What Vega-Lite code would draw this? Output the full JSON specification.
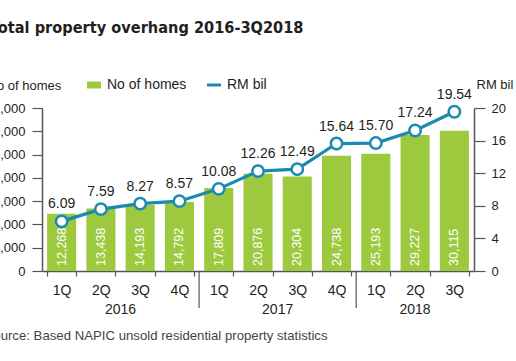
{
  "$schema": "https://vega.github.io/schema/vega-lite/v6.json",
  "width": 432,
  "height": 163,
  "autosize": {"type": "none"},
  "padding": {"left": 42, "right": 42, "top": 108, "bottom": 90},
  "background": "white",
  "title": {
    "text": "Total property overhang 2016-3Q2018",
    "anchor": "start",
    "frame": "group",
    "dx": -52,
    "dy": -2,
    "font": "DejaVu Sans Condensed",
    "fontSize": 16.2,
    "fontWeight": "bold",
    "color": "#231f20",
    "offset": 40
  },
  "config": {
    "view": {"stroke": null},
    "font": "Liberation Sans",
    "axis": {
      "domainColor": "#555",
      "tickColor": "#555",
      "labelColor": "#231f20",
      "labelFont": "Liberation Sans",
      "labelFontSize": 13,
      "grid": false,
      "domainWidth": 1.5,
      "tickWidth": 1.2,
      "titleFont": "Liberation Sans",
      "titleFontWeight": "normal",
      "titleFontSize": 13,
      "titleColor": "#231f20"
    }
  },
  "data": {
    "values": [
      {"period": "2016 1Q", "homes": 12268, "rm": 6.09},
      {"period": "2016 2Q", "homes": 13438, "rm": 7.59},
      {"period": "2016 3Q", "homes": 14193, "rm": 8.27},
      {"period": "2016 4Q", "homes": 14792, "rm": 8.57},
      {"period": "2017 1Q", "homes": 17809, "rm": 10.08},
      {"period": "2017 2Q", "homes": 20876, "rm": 12.26},
      {"period": "2017 3Q", "homes": 20304, "rm": 12.49},
      {"period": "2017 4Q", "homes": 24738, "rm": 15.64},
      {"period": "2018 1Q", "homes": 25193, "rm": 15.70},
      {"period": "2018 2Q", "homes": 29227, "rm": 17.24},
      {"period": "2018 3Q", "homes": 30115, "rm": 19.54}
    ]
  },
  "layer": [
    {
      "layer": [
        {
          "mark": {"type": "bar"},
          "encoding": {
            "x": {
              "field": "period",
              "type": "ordinal",
              "sort": null,
              "scale": {"paddingInner": 0.26, "paddingOuter": 0.13},
              "axis": {
                "labelExpr": "split(datum.value, ' ')[1]",
                "labelAngle": 0,
                "labelFontSize": 14,
                "tickBand": "extent",
                "tickSize": 5,
                "labelPadding": 7,
                "title": "Source: Based NAPIC unsold residential property statistics",
                "titleX": -58,
                "titleY": 64,
                "titleAlign": "left",
                "titleAnchor": "start",
                "titleBaseline": "middle",
                "titleFontSize": 13.2,
                "titleColor": "#444"
              }
            },
            "y": {
              "field": "homes",
              "type": "quantitative",
              "scale": {"domain": [0, 35000], "nice": false},
              "axis": {
                "orient": "left",
                "values": [0, 5000, 10000, 15000, 20000, 25000, 30000, 35000],
                "labelExpr": "format(datum.value, ',')",
                "tickSize": 10,
                "labelPadding": 7,
                "title": "No of homes",
                "titleAngle": 0,
                "titleX": -55,
                "titleY": -23,
                "titleAlign": "left",
                "titleBaseline": "middle"
              }
            },
            "color": {
              "datum": "No of homes",
              "type": "nominal",
              "scale": {"domain": ["No of homes", "RM bil"], "range": ["#9dc93e", "#1b8ab1"]},
              "legend": {
                "orient": "none",
                "legendX": 45,
                "legendY": -30,
                "direction": "horizontal",
                "title": null,
                "symbolSize": 196,
                "labelFontSize": 14,
                "labelFont": "Liberation Sans",
                "labelColor": "#231f20",
                "labelOffset": 6,
                "columnPadding": 14,
                "encode": {
                  "symbols": {
                    "update": {
                      "shape": {"signal": "datum.value === 'RM bil' ? 'stroke' : 'M-1,-0.5H1V0.5H-1Z'"},
                      "fill": {"signal": "datum.value === 'RM bil' ? 'transparent' : '#9dc93e'"},
                      "stroke": {"signal": "datum.value === 'RM bil' ? '#1b8ab1' : 'transparent'"},
                      "strokeWidth": {"signal": "datum.value === 'RM bil' ? 3 : 0"},
                      "opacity": {"value": 1}
                    }
                  }
                }
              }
            }
          }
        },
        {
          "mark": {"type": "text", "angle": 270, "align": "left", "baseline": "middle", "dx": 5, "color": "white", "fontSize": 12.5},
          "encoding": {
            "x": {"field": "period", "type": "ordinal", "sort": null},
            "y": {
              "datum": 0,
              "type": "quantitative",
              "axis": {
                "orient": "left",
                "values": [0, 5000, 10000, 15000, 20000, 25000, 30000, 35000],
                "labelExpr": "format(datum.value, ',')",
                "tickSize": 10,
                "labelPadding": 7,
                "title": "No of homes",
                "titleAngle": 0,
                "titleX": -55,
                "titleY": -23,
                "titleAlign": "left",
                "titleBaseline": "middle"
              }
            },
            "text": {"field": "homes", "type": "quantitative", "format": ","}
          }
        },
        {
          "mark": {"type": "rule", "color": "#555", "strokeWidth": 1.2, "xOffset": -19.64, "y2Offset": 37},
          "transform": [{"filter": "datum.period === '2017 1Q' || datum.period === '2018 1Q'"}],
          "encoding": {
            "x": {"field": "period", "type": "ordinal", "sort": null},
            "y": {
              "datum": 0,
              "type": "quantitative",
              "axis": {
                "orient": "left",
                "values": [0, 5000, 10000, 15000, 20000, 25000, 30000, 35000],
                "labelExpr": "format(datum.value, ',')",
                "tickSize": 10,
                "labelPadding": 7,
                "title": "No of homes",
                "titleAngle": 0,
                "titleX": -55,
                "titleY": -23,
                "titleAlign": "left",
                "titleBaseline": "middle"
              }
            },
            "y2": {"datum": 0}
          }
        },
        {
          "data": {"values": [{"period": "2016 3Q", "year": "2016"}, {"period": "2017 3Q", "year": "2017"}]},
          "mark": {"type": "text", "xOffset": -19.64, "dy": 39, "baseline": "middle", "fontSize": 14, "color": "#231f20"},
          "encoding": {
            "x": {"field": "period", "type": "ordinal", "sort": null},
            "y": {
              "datum": 0,
              "type": "quantitative",
              "axis": {
                "orient": "left",
                "values": [0, 5000, 10000, 15000, 20000, 25000, 30000, 35000],
                "labelExpr": "format(datum.value, ',')",
                "tickSize": 10,
                "labelPadding": 7,
                "title": "No of homes",
                "titleAngle": 0,
                "titleX": -55,
                "titleY": -23,
                "titleAlign": "left",
                "titleBaseline": "middle"
              }
            },
            "text": {"field": "year"}
          }
        },
        {
          "data": {"values": [{"period": "2018 2Q", "year": "2018"}]},
          "mark": {"type": "text", "dy": 39, "baseline": "middle", "fontSize": 14, "color": "#231f20"},
          "encoding": {
            "x": {"field": "period", "type": "ordinal", "sort": null},
            "y": {
              "datum": 0,
              "type": "quantitative",
              "axis": {
                "orient": "left",
                "values": [0, 5000, 10000, 15000, 20000, 25000, 30000, 35000],
                "labelExpr": "format(datum.value, ',')",
                "tickSize": 10,
                "labelPadding": 7,
                "title": "No of homes",
                "titleAngle": 0,
                "titleX": -55,
                "titleY": -23,
                "titleAlign": "left",
                "titleBaseline": "middle"
              }
            },
            "text": {"field": "year"}
          }
        }
      ]
    },
    {
      "layer": [
        {
          "mark": {"type": "line", "strokeWidth": 3.2},
          "encoding": {
            "x": {"field": "period", "type": "ordinal", "sort": null},
            "y": {
              "field": "rm",
              "type": "quantitative",
              "scale": {"domain": [0, 20], "nice": false},
              "axis": {
                "orient": "right",
                "values": [0, 4, 8, 12, 16, 20],
                "tickSize": 11,
                "labelPadding": 6,
                "title": "RM bil",
                "titleAngle": 0,
                "titleX": 2,
                "titleY": -24,
                "titleAlign": "left",
                "titleBaseline": "middle"
              }
            },
            "color": {"datum": "RM bil", "type": "nominal"}
          }
        },
        {
          "mark": {"type": "point", "filled": true, "fill": "white", "stroke": "#1b8ab1", "strokeWidth": 2.5, "size": 130, "opacity": 1},
          "encoding": {
            "x": {"field": "period", "type": "ordinal", "sort": null},
            "y": {
              "field": "rm",
              "type": "quantitative",
              "axis": {
                "orient": "right",
                "values": [0, 4, 8, 12, 16, 20],
                "tickSize": 11,
                "labelPadding": 6,
                "title": "RM bil",
                "titleAngle": 0,
                "titleX": 2,
                "titleY": -24,
                "titleAlign": "left",
                "titleBaseline": "middle"
              }
            }
          }
        },
        {
          "mark": {"type": "text", "baseline": "bottom", "dy": -10, "fontSize": 14, "color": "#231f20"},
          "encoding": {
            "x": {"field": "period", "type": "ordinal", "sort": null},
            "y": {
              "field": "rm",
              "type": "quantitative",
              "axis": {
                "orient": "right",
                "values": [0, 4, 8, 12, 16, 20],
                "tickSize": 11,
                "labelPadding": 6,
                "title": "RM bil",
                "titleAngle": 0,
                "titleX": 2,
                "titleY": -24,
                "titleAlign": "left",
                "titleBaseline": "middle"
              }
            },
            "text": {"field": "rm", "type": "quantitative", "format": ".2f"}
          }
        }
      ]
    }
  ],
  "resolve": {"scale": {"y": "independent"}}
}
